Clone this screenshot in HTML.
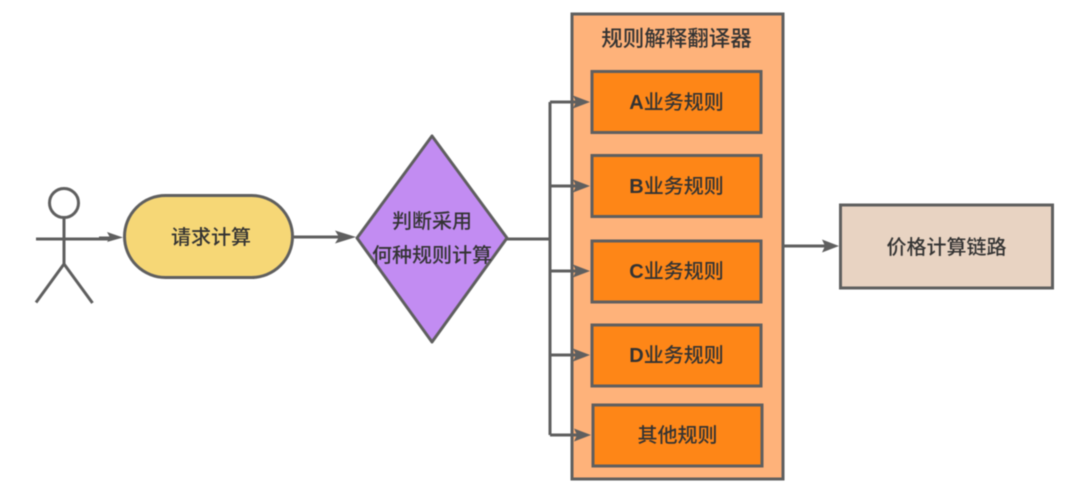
<!DOCTYPE html>
<html>
<head>
<meta charset="utf-8">
<style>
html,body{margin:0;padding:0;background:#fff;width:1080px;height:494px;overflow:hidden}
svg{display:block;filter:blur(0.4px)}
text{font-family:"Liberation Sans","Noto Sans CJK SC",sans-serif;font-size:20px;font-weight:500;fill:#333;text-anchor:middle;dominant-baseline:central}
.b{font-weight:700}
.s{stroke:#5f5f5f;stroke-width:3;fill:none}
.box{stroke:#5f5f5f;stroke-width:3;fill:#fe8617}
.a{fill:#5f5f5f;stroke:none}
</style>
</head>
<body>
<svg width="1080" height="494" viewBox="0 0 1080 494" xmlns="http://www.w3.org/2000/svg">
<rect width="1080" height="494" fill="#fff"/>
<!-- actor -->
<circle cx="64" cy="203" r="14.5" class="s" fill="none"/>
<path class="s" d="M64 217.5V264M36 239H105M64 264L36 302.500M64 264L92.500 303"/>
<path d="M99 238.500H112" stroke="#5f5f5f" stroke-width="4" fill="none"/>
<path class="a" d="M123 237.500L107 232L110 237.500L107 242Z"/>
<!-- pill -->
<rect x="124.500" y="195.500" width="168" height="82" rx="41" ry="41" fill="#f6d776" stroke="#5f5f5f" stroke-width="3"/>
<text x="211" y="238">请求计算</text>
<!-- arrow pill to diamond -->
<path class="s" d="M294 237H345"/>
<path class="a" d="M356 237L335 230.500L339 237L335 243.500Z"/>
<!-- diamond -->
<path d="M432 136L357 238L432 342L507 238Z" fill="#c28cf2" stroke="#5f5f5f" stroke-width="3" stroke-linejoin="round"/>
<text x="432" y="222">判断采用</text>
<text x="432" y="256">何种规则计算</text>
<!-- large container -->
<rect x="572" y="14" width="211" height="465" fill="#feb27a" stroke="#5f5f5f" stroke-width="3"/>
<text x="676.500" y="39" style="font-size:21.500px">规则解释翻译器</text>
<!-- rule boxes -->
<rect x="592" y="71.500" width="169" height="61" class="box"/>
<text x="676.500" y="103"><tspan class="b">A</tspan>业务规则</text>
<rect x="592" y="155.500" width="169" height="61" class="box"/>
<text x="676.500" y="187"><tspan class="b">B</tspan>业务规则</text>
<rect x="592" y="241" width="169" height="61" class="box"/>
<text x="676.500" y="272"><tspan class="b">C</tspan>业务规则</text>
<rect x="592" y="325" width="169" height="61" class="box"/>
<text x="676.500" y="356"><tspan class="b">D</tspan>业务规则</text>
<rect x="593" y="405" width="169" height="61" class="box"/>
<text x="677.500" y="436">其他规则</text>
<!-- fork connectors -->
<path class="s" d="M507 239H550M550 102V435M550 102H580M550 186H580M550 271H580M550 355H580M550 435H580"/>
<path class="a" d="M590 102L573 95.500L576 102L573 108.500Z"/>
<path class="a" d="M590 186L573 179.500L576 186L573 192.500Z"/>
<path class="a" d="M590 271L573 264.500L576 271L573 277.500Z"/>
<path class="a" d="M590 355L573 348.500L576 355L573 361.500Z"/>
<path class="a" d="M591 435L574 428.500L577 435L574 441.500Z"/>
<!-- exit arrow -->
<path class="s" d="M784 246H828"/>
<path class="a" d="M839 246L822 239.500L825 246L822 252.500Z"/>
<!-- result box -->
<rect x="840.500" y="205" width="212" height="83" fill="#e8d3c2" stroke="#5f5f5f" stroke-width="3"/>
<text x="946.500" y="248">价格计算链路</text>
</svg>
</body>
</html>
